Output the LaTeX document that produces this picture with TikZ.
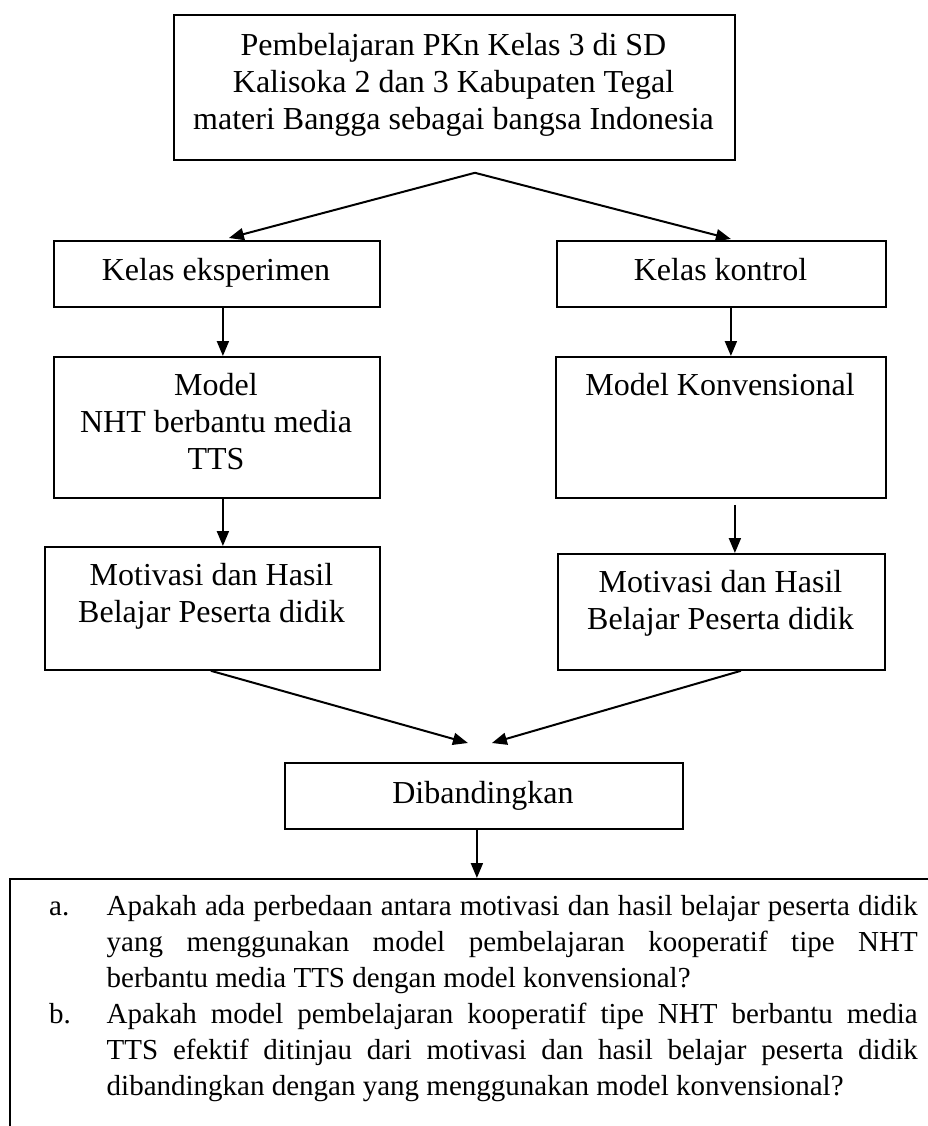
\documentclass[tikz,border=0pt]{standalone}
\usepackage{fontspec}
\setmainfont{Liberation Serif}
\usetikzlibrary{arrows.meta}
\tikzset{
  box/.style={draw, line width=1.8pt, inner sep=0pt, anchor=north west},
  txt/.style={inner sep=0pt, anchor=base, font=\fontsize{32}{37}\selectfont},
  qtxt/.style={inner sep=0pt, anchor=base west, font=\fontsize{29}{36}\selectfont},
  arr/.style={line width=2pt, -{Triangle[length=15pt,width=12pt]}}
}
\begin{document}
\begin{tikzpicture}[x=1pt,y=-1pt]
\useasboundingbox (0,0) rectangle (928,1126);
% boxes
\node[box, minimum width=561, minimum height=145] (top) at (173,14) {};
\node[box, minimum width=326, minimum height=66] (ke) at (53,240) {};
\node[box, minimum width=329, minimum height=66] (kk) at (556,240) {};
\node[box, minimum width=326, minimum height=141] (mn) at (53,356) {};
\node[box, minimum width=330, minimum height=141] (mk) at (555,356) {};
\node[box, minimum width=335, minimum height=123] (ml) at (44,546) {};
\node[box, minimum width=327, minimum height=116] (mr) at (557,553) {};
\node[box, minimum width=398, minimum height=66] (dib) at (284,762) {};
\node[box, minimum width=940, minimum height=300] (qbox) at (9,878) {};
% texts
\node[txt] (ttop) at (453.5,56) {\begin{tabular}[t]{@{}c@{}}Pembelajaran PKn Kelas 3 di SD\\ Kalisoka 2 dan 3 Kabupaten Tegal\\ materi Bangga sebagai bangsa Indonesia\end{tabular}};
\node[txt] (tke) at (216,280) {Kelas eksperimen};
\node[txt] (tkk) at (720.5,280) {Kelas kontrol};
\node[txt] (tmn) at (216,395) {\begin{tabular}[t]{@{}c@{}}Model\\ NHT berbantu media\\ TTS\end{tabular}};
\node[txt] (tmk) at (720,395) {Model Konvensional};
\node[txt] (tml) at (211.5,585) {\begin{tabular}[t]{@{}c@{}}Motivasi dan Hasil\\ Belajar Peserta didik\end{tabular}};
\node[txt] (tmr) at (720.5,592) {\begin{tabular}[t]{@{}c@{}}Motivasi dan Hasil\\ Belajar Peserta didik\end{tabular}};
\node[txt] (tdib) at (483,803) {Dibandingkan};
% question texts
\node[qtxt] (la) at (49,915) {a.};
\node[qtxt] (ta) at (106.5,915) {\begin{tabular}[t]{@{}l@{}}\makebox[811pt][s]{Apakah ada perbedaan antara motivasi dan hasil belajar peserta didik}\\ \makebox[811pt][s]{yang menggunakan model pembelajaran kooperatif tipe NHT}\\ berbantu media TTS dengan model konvensional?\end{tabular}};
\node[qtxt] (lb) at (49,1023) {b.};
\node[qtxt] (tb) at (106.5,1023) {\begin{tabular}[t]{@{}l@{}}\makebox[811pt][s]{Apakah model pembelajaran kooperatif tipe NHT berbantu media}\\ \makebox[811pt][s]{TTS efektif ditinjau dari motivasi dan hasil belajar peserta didik}\\ dibandingkan dengan yang menggunakan model konvensional?\end{tabular}};
% connectors
\coordinate (apex) at ([xshift=20.5pt,yshift=-12pt]top.south);
\draw[arr] (apex) -- ([xshift=12pt,yshift=2pt]ke.north);
\draw[arr] (apex) -- ([xshift=9.5pt,yshift=1pt]kk.north);
\draw[arr] ([xshift=6pt]ke.south) -- ([xshift=6pt]mn.north);
\draw[arr] ([xshift=9.5pt]kk.south) -- ([xshift=10pt]mk.north);
\draw[arr] ([xshift=6pt]mn.south) -- ([xshift=10.5pt]ml.north);
\draw[arr] ([xshift=14pt,yshift=-6pt]mk.south) -- ([xshift=13.5pt]mr.north);
\draw[arr] ([xshift=-1.5pt]ml.south) -- ([xshift=-16pt,yshift=19pt]dib.north);
\draw[arr] ([xshift=19.5pt]mr.south) -- ([xshift=8pt,yshift=19pt]dib.north);
\draw[arr] ([xshift=-7pt]dib.south) -- ([xshift=-7pt]dib.south |- qbox.north);
\end{tikzpicture}
\end{document}
